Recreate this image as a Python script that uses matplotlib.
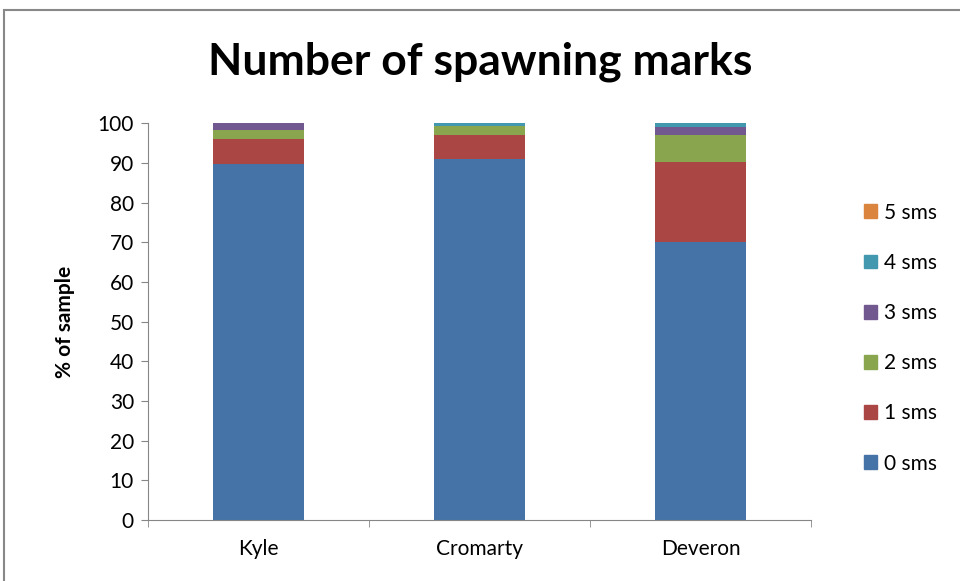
import matplotlib.pyplot as plt
import matplotlib.patches as mpatches
import numpy as np

plt.rcParams['font.family'] = ['Lato', 'DejaVu Sans']

# % of sample with each count of spawning marks, per river
rivers = ['Kyle', 'Cromarty', 'Deveron']
series_names = ['0 sms', '1 sms', '2 sms', '3 sms', '4 sms', '5 sms']
sms0 = [89.7, 90.9, 70.1]
sms1 = [6.3, 6.2, 20.2]
sms2 = [2.3, 2.3, 6.8]
sms3 = [1.7, 0.0, 2.0]
sms4 = [0.0, 0.6, 0.9]
sms5 = [0.0, 0.0, 0.0]
colors = ['#4572A7', '#AA4643', '#89A54E', '#71588F', '#4198AF', '#DB843D']
yticks = list(range(0, 101, 10))

fig = plt.figure(figsize=(9.6, 5.81), dpi=100)
ax = fig.add_axes([0.154, 0.105, 0.691, 0.683])

x = np.arange(len(rivers))
bottom = np.zeros(len(rivers))
handles = []
for name, vals, col in zip(series_names, [sms0, sms1, sms2, sms3, sms4, sms5], colors):
    ax.bar(x, vals, width=0.41, bottom=bottom, color=col, edgecolor='none')
    bottom += np.array(vals)
    handles.append(mpatches.Patch(color=col, label=name))

ax.set_xlim(-0.5, len(rivers) - 0.5)
ax.set_ylim(0, 100)
ax.set_yticks(yticks)
ax.set_xticks(x)
ax.set_xticklabels(rivers)
ax.set_xticks(np.arange(-0.5, len(rivers)), minor=True)
ax.tick_params(axis='x', which='major', length=0, labelsize=15, pad=14)
ax.tick_params(axis='x', which='minor', length=5, color='#868686')
ax.tick_params(axis='y', length=5, color='#868686', labelsize=15, pad=5)
for s in ['top', 'right']:
    ax.spines[s].set_visible(False)
for s in ['left', 'bottom']:
    ax.spines[s].set_color('#868686')

ax.set_ylabel('% of sample', fontsize=15, fontweight='bold', labelpad=16)
fig.text(0.5, 0.893, 'Number of spawning marks', ha='center', va='center',
         fontsize=32, fontweight='bold')

leg = fig.legend(handles=handles[::-1], loc='center left',
                 bbox_to_anchor=(0.88, 0.418), frameon=False, fontsize=15,
                 handlelength=0.65, handleheight=0.65, handletextpad=0.35,
                 labelspacing=1.45)

# chart frame
fig.patches.append(mpatches.Rectangle((4 / 960, -0.05), 1.2, 1 - 10 / 581 + 0.05,
                                      transform=fig.transFigure, fill=False,
                                      edgecolor='#888888', linewidth=1.5))

fig.savefig('out.png', dpi=100)
